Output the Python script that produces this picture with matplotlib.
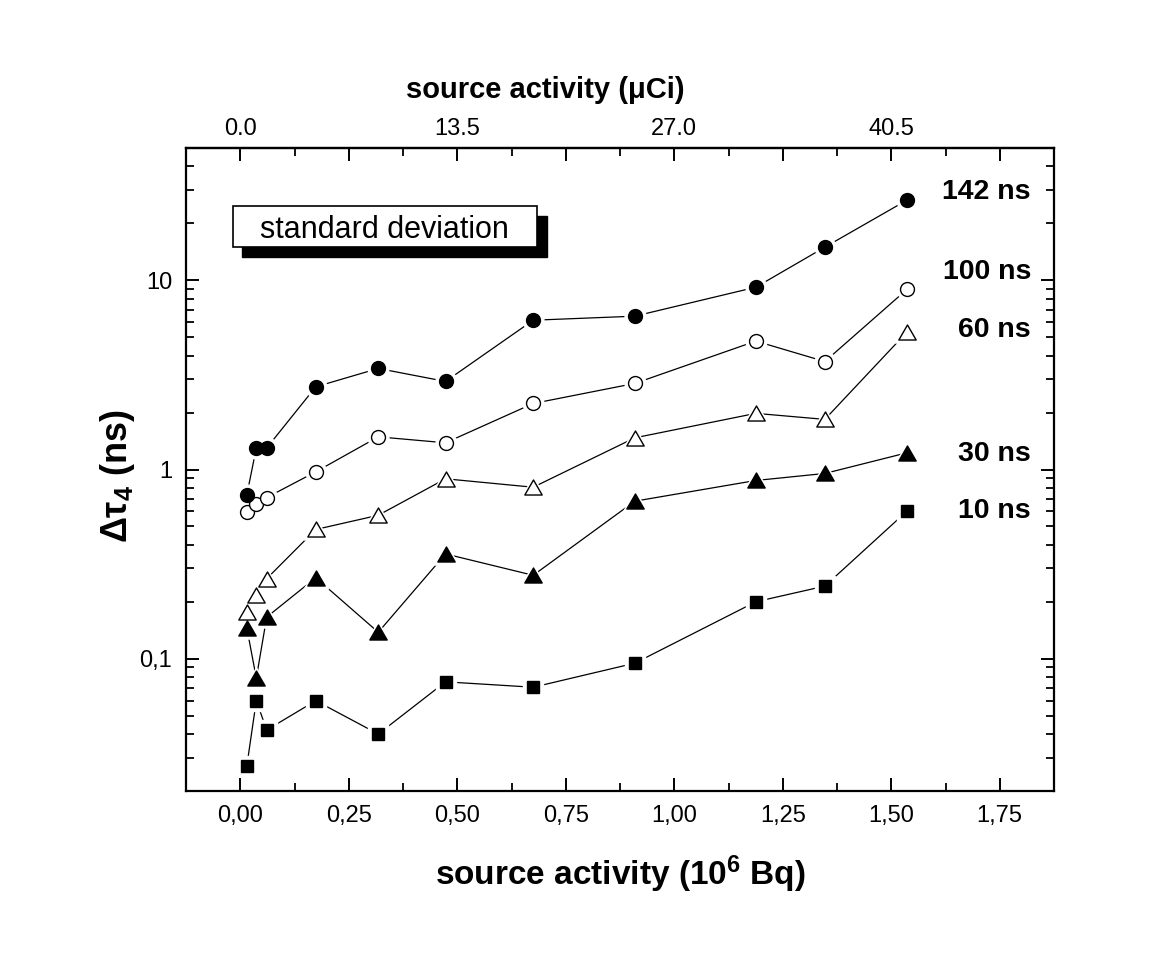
import numpy as np
import matplotlib
matplotlib.use("Agg")
import matplotlib.pyplot as plt
from matplotlib.patches import Rectangle
from matplotlib.path import Path
from matplotlib.ticker import LogLocator, NullFormatter, MultipleLocator

plt.rcParams['font.family'] = ['Liberation Sans', 'DejaVu Sans']
plt.rcParams['mathtext.fontset'] = 'custom'
plt.rcParams['mathtext.rm'] = 'Liberation Sans'
plt.rcParams['mathtext.bf'] = 'Liberation Sans:bold'
plt.rcParams['mathtext.it'] = 'Liberation Sans:italic'

# source activity in 10^6 Bq, shared by all series
activity = [0.015, 0.037, 0.061, 0.174, 0.318, 0.473, 0.675, 0.909, 1.188, 1.347, 1.536]

# standard deviation of tau_4 (ns) for each lifetime
sd_10ns = [0.027, 0.060, 0.042, 0.060, 0.040, 0.0755, 0.0707, 0.0947, 0.200, 0.242, 0.602]
sd_30ns = [0.146, 0.079, 0.166, 0.268, 0.138, 0.358, 0.276, 0.680, 0.875, 0.953, 1.225]
sd_60ns = [0.176, 0.217, 0.265, 0.482, 0.573, 0.893, 0.806, 1.47, 1.98, 1.84, 5.32]
sd_100ns = [0.595, 0.661, 0.711, 0.972, 1.488, 1.384, 2.233, 2.85, 4.77, 3.72, 8.94]
sd_142ns = [0.731, 1.30, 1.30, 2.735, 3.42, 2.92, 6.15, 6.46, 9.19, 14.96, 26.5]

series_names = ['10 ns', '30 ns', '60 ns', '100 ns', '142 ns']

x_ticks = [0.0, 0.25, 0.5, 0.75, 1.0, 1.25, 1.5, 1.75]
x_ticklabels = ['0,00', '0,25', '0,50', '0,75', '1,00', '1,25', '1,50', '1,75']
y_ticks = [0.1, 1, 10]
y_ticklabels = ['0,1', '1', '10']
top_ticks = [0.0, 6.75, 13.5, 20.25, 27.0, 33.75, 40.5, 47.25]
top_ticklabels = ['0.0', '', '13.5', '', '27.0', '', '40.5', '']

# equilateral-ish triangle like Origin's
tri = Path([(-1, -0.866), (1, -0.866), (0, 0.866), (-1, -0.866)],
           [Path.MOVETO, Path.LINETO, Path.LINETO, Path.CLOSEPOLY])

W, H = 1175, 960
fig = plt.figure(figsize=(W / 100, H / 100), dpi=100)
ax = fig.add_axes([186 / W, 1 - 791 / H, (1054 - 186) / W, (791 - 148) / H])

styles = [
    (sd_10ns, 's', 'black', 9),
    (sd_30ns, tri, 'black', 12.5),
    (sd_60ns, tri, 'white', 12.5),
    (sd_100ns, 'o', 'white', 10),
    (sd_142ns, 'o', 'black', 10),
]

# lines
for vals, m, fc, ms in styles:
    ax.plot(activity, vals, color='black', lw=0.9, zorder=1)
# white halos so the lines stop short of the symbols
for vals, m, fc, ms in styles:
    ax.plot(activity, vals, ls='none', marker=m, ms=ms + 5, mfc='white',
            mec='white', zorder=2)
for vals, m, fc, ms in styles:
    ax.plot(activity, vals, ls='none', marker=m, ms=ms, mfc=fc,
            mec='black', mew=1.0, zorder=3)

# labels next to the last point of each series
nudges = [1.0, 0.98, 1.03, 1.23, 1.11]
for (vals, m, fc, ms), name, k in zip(styles, series_names, nudges):
    ax.text(1.822, vals[-1] * k, name, ha='right', va='center',
            fontsize=20.5, fontweight='bold')

ax.set_yscale('log')
ax.set_xlim(-0.125, 1.875)
ax.set_ylim(0.02, 50)

ax.set_xticks(x_ticks, x_ticklabels)
ax.xaxis.set_minor_locator(MultipleLocator(0.125))
ax.set_yticks(y_ticks, y_ticklabels)
ax.yaxis.set_minor_locator(LogLocator(base=10, subs=np.arange(2, 10)))
ax.yaxis.set_minor_formatter(NullFormatter())

ax.tick_params(which='both', direction='in', right=True, top=False,
               labelsize=17, pad=10)
ax.tick_params(which='major', length=9.5, width=1.4)
ax.tick_params(which='minor', length=5.5, width=1.3)
for s in ax.spines.values():
    s.set_linewidth(1.6)

sec = ax.secondary_xaxis('top', functions=(lambda x: x * 27.0, lambda x: x / 27.0))
sec.set_xticks(top_ticks, top_ticklabels)
sec.xaxis.set_minor_locator(MultipleLocator(3.375))
sec.tick_params(which='both', direction='in', labelsize=17, pad=6)
sec.tick_params(which='major', length=9.5, width=1.4)
sec.tick_params(which='minor', length=5.5, width=1.3)
sec.spines['top'].set_linewidth(1.6)

fig.text(620 / W, 1 - 885 / H, r'source activity (10$^{\mathbf{6}}$ Bq)',
         ha='center', va='baseline', fontsize=24, fontweight='bold')
fig.text(545 / W, 1 - 98 / H, 'source activity (μCi)',
         ha='center', va='baseline', fontsize=21, fontweight='bold')
fig.text(137 / W, 1 - 476 / H, r'$\mathbf{\Delta\tau_4}$ (ns)', rotation=90,
         ha='right', va='center', fontsize=26, fontweight='bold')

# "standard deviation" box with drop shadow
fig.add_artist(Rectangle((242 / W, 1 - 257 / H), 305 / W, 41 / H,
                         transform=fig.transFigure, facecolor='black',
                         edgecolor='black', zorder=5))
fig.add_artist(Rectangle((232.7 / W, 1 - 246.7 / H), 304 / W, 41 / H,
                         transform=fig.transFigure, facecolor='white',
                         edgecolor='black', lw=1.2, zorder=6))
fig.text(384.7 / W, 1 - 238 / H, 'standard deviation', ha='center',
         va='baseline', fontsize=22, zorder=7)

fig.savefig('out.png', dpi=100)
